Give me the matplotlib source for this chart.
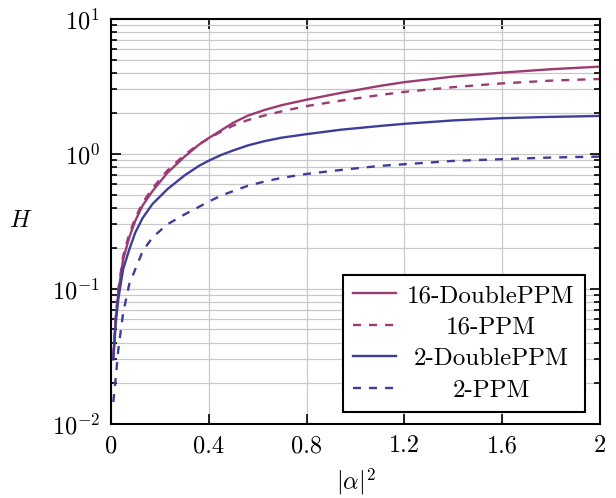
import matplotlib
matplotlib.use('Agg')
import matplotlib.pyplot as plt
from matplotlib.ticker import LogLocator, FixedLocator, NullFormatter

plt.rcParams['font.family'] = 'serif'
plt.rcParams['font.serif'] = ['cmr10']
plt.rcParams['mathtext.fontset'] = 'cm'
plt.rcParams['axes.formatter.use_mathtext'] = True
plt.rcParams['axes.unicode_minus'] = False

# values
alpha2 = [0.01, 0.02, 0.03, 0.05, 0.075, 0.1, 0.13, 0.17, 0.23, 0.3, 0.36, 0.4,
          0.45, 0.5, 0.56, 0.63, 0.7, 0.8, 0.94, 1.1, 1.2, 1.4, 1.6, 1.8, 2.0]
h_16_double = [0.031, 0.06, 0.093, 0.165, 0.24, 0.32, 0.415, 0.53, 0.72, 0.95, 1.17, 1.31,
               1.49, 1.70, 1.92, 2.12, 2.30, 2.52, 2.83, 3.19, 3.40, 3.74, 4.0, 4.24, 4.43]
h_16_ppm = [0.032, 0.063, 0.098, 0.175, 0.255, 0.335, 0.435, 0.555, 0.75, 0.98, 1.18, 1.30,
            1.46, 1.62, 1.78, 1.93, 2.07, 2.26, 2.48, 2.73, 2.88, 3.12, 3.33, 3.49, 3.59]
h_2_double = [0.03, 0.056, 0.083, 0.14, 0.195, 0.262, 0.335, 0.425, 0.545, 0.69, 0.815, 0.89,
              0.98, 1.06, 1.155, 1.245, 1.32, 1.40, 1.51, 1.61, 1.67, 1.77, 1.84, 1.88, 1.91]
h_2_ppm = [0.0145, 0.022, 0.035, 0.066, 0.108, 0.14, 0.19, 0.24, 0.30, 0.355, 0.405, 0.443,
           0.49, 0.53, 0.58, 0.625, 0.665, 0.71, 0.76, 0.815, 0.838, 0.887, 0.914, 0.94, 0.955]

x_ticks = [0, 0.4, 0.8, 1.2, 1.6, 2]
x_tick_labels = ['0', '0.4', '0.8', '1.2', '1.6', '2']

purple = '#9b3b73'
blue = '#3d3d9b'
fs = 17.5

fig = plt.figure(figsize=(6.16, 4.98), dpi=100)
ax = fig.add_axes([0.180, 0.149, 0.794, 0.813])

dash = (0, (3.4, 3.4))
lw = 1.7
ax.plot(alpha2, h_16_double, color=purple, lw=lw, label='16-DoublePPM')
ax.plot(alpha2, h_16_ppm, color=purple, lw=lw, ls=dash, label='16-PPM')
ax.plot(alpha2, h_2_double, color=blue, lw=lw, label='2-DoublePPM')
ax.plot(alpha2, h_2_ppm, color=blue, lw=lw, ls=dash, label='2-PPM')

ax.set_yscale('log')
ax.set_xlim(0, 2)
ax.set_ylim(1e-2, 1e1)
ax.xaxis.set_major_locator(FixedLocator(x_ticks))
ax.set_xticklabels(x_tick_labels)
ax.yaxis.set_major_locator(LogLocator(base=10, numticks=10))
ax.yaxis.set_minor_locator(LogLocator(base=10, subs=range(2, 10), numticks=20))
ax.yaxis.set_minor_formatter(NullFormatter())

# grid
ax.grid(True, which='major', axis='both', color='#c8c8c8', lw=0.9)
ax.grid(True, which='minor', axis='y', color='#c8c8c8', lw=0.9)
ax.set_axisbelow(True)

ax.tick_params(which='both', direction='in', top=True, right=True,
               labelsize=fs, width=1.2, colors='black')
ax.tick_params(which='major', length=7, pad=8)
ax.tick_params(which='minor', length=4.5)
for s in ax.spines.values():
    s.set_linewidth(1.5)

ax.set_xlabel(r'$|\alpha|^2$', fontsize=fs, labelpad=7)
ax.set_ylabel(r'$H$', fontsize=fs, rotation=0, labelpad=22, va='center')

leg = ax.legend(loc='lower right', bbox_to_anchor=(0.969, 0.03), borderaxespad=0,
                fontsize=18, frameon=True, fancybox=False, framealpha=1,
                edgecolor='black', handlelength=1.7, labelspacing=0.36,
                borderpad=0.4, handletextpad=0.45)
leg.get_frame().set_linewidth(1.5)

# centre the legend texts in their column
renderer = fig.canvas.get_renderer()
widths = [t.get_window_extent(renderer).width for t in leg.get_texts()]
widest = max(widths)
for t, w in zip(leg.get_texts(), widths):
    t.set_position(((widest - w) / 2, 0))

fig.savefig('out.png', dpi=100)
